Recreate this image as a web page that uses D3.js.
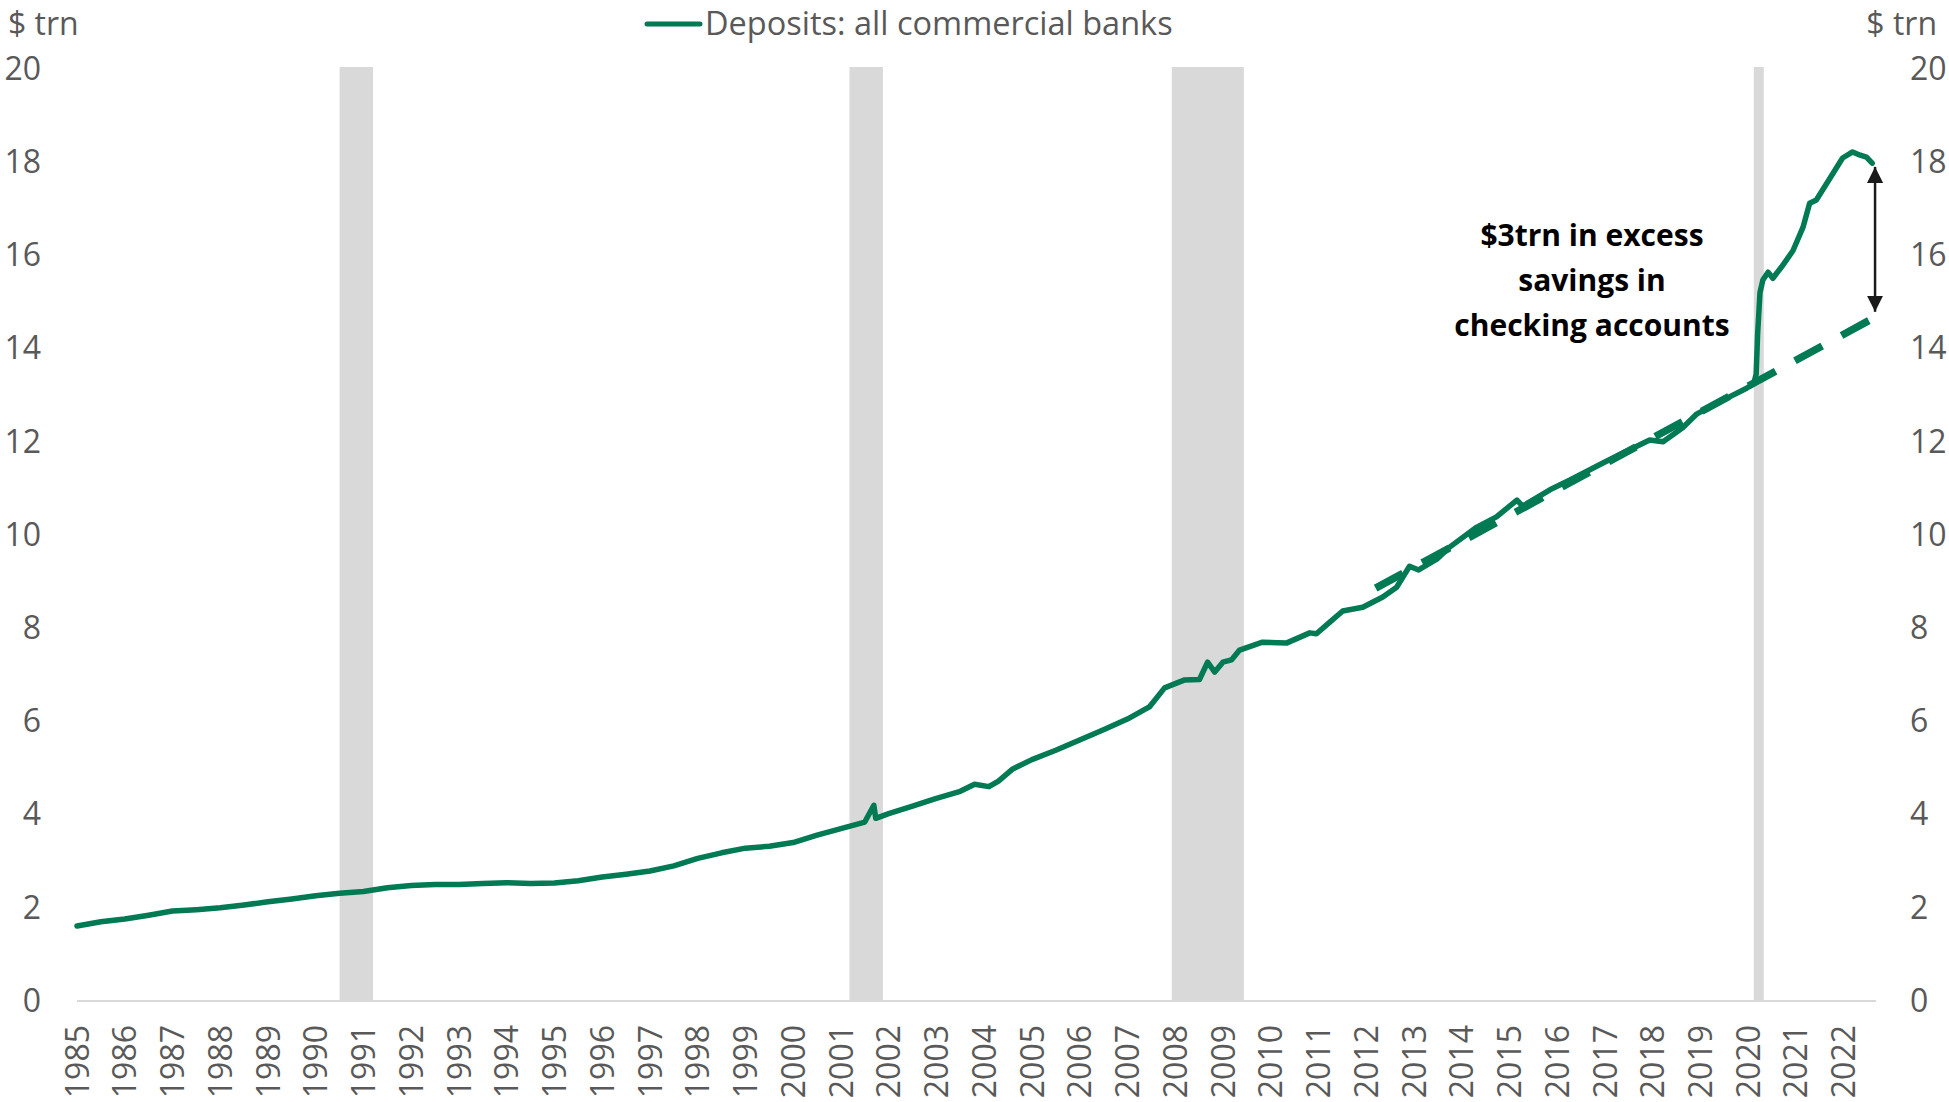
<!DOCTYPE html>
<html>
<head>
<meta charset="utf-8">
<title>Deposits: all commercial banks</title>
<script src="https://cdn.jsdelivr.net/npm/d3@7"></script>
<style>
  html, body { margin: 0; padding: 0; background: #ffffff; }
  svg { display: block; }
  text { font-family: "Open Sans", "Noto Sans", sans-serif; }
</style>
</head>
<body>
<svg id="chart" width="1949" height="1102"></svg>
<script>
// ---- data -------------------------------------------------------------
// Observation dates (decimal years) and deposit levels, $ trillion
const obsDates = [
  1985.0, 1985.5, 1986.0, 1986.5, 1987.0, 1987.5, 1988.0, 1988.5, 1989.0, 1989.5,
  1990.0, 1990.5, 1991.0, 1991.5, 1992.0, 1992.5, 1993.0, 1993.5, 1994.0, 1994.5,
  1995.0, 1995.5, 1996.0, 1996.5, 1997.0, 1997.5, 1998.0, 1998.5, 1999.0, 1999.5,
  2000.0, 2000.5, 2001.0, 2001.5, 2001.69, 2001.73, 2002.0, 2002.5, 2003.0, 2003.5,
  2003.8, 2004.1, 2004.3, 2004.6, 2005.0, 2005.5, 2006.0, 2006.5, 2007.0, 2007.46,
  2007.78, 2008.2, 2008.51, 2008.68, 2008.83, 2009.0, 2009.18, 2009.35, 2009.83, 2010.33,
  2010.82, 2010.96, 2011.24, 2011.51, 2011.93, 2012.35, 2012.64, 2012.91, 2013.1, 2013.48,
  2013.75, 2014.32, 2014.73, 2015.16, 2015.28, 2015.85, 2016.27, 2016.97, 2017.38, 2017.94,
  2018.22, 2018.63, 2018.93, 2019.35, 2019.97, 2020.12, 2020.17, 2020.2, 2020.25, 2020.31,
  2020.42, 2020.52, 2020.7, 2020.94, 2021.15, 2021.29, 2021.43, 2021.65, 2021.98, 2022.19,
  2022.35, 2022.48, 2022.6
];
const deposits = [
  1.61, 1.70, 1.76, 1.84, 1.93, 1.96, 2.00, 2.06, 2.13, 2.19,
  2.26, 2.31, 2.35, 2.43, 2.48, 2.50, 2.50, 2.52, 2.54, 2.52,
  2.53, 2.58, 2.66, 2.72, 2.79, 2.90, 3.06, 3.18, 3.28, 3.32,
  3.40, 3.56, 3.70, 3.84, 4.20, 3.92, 4.02, 4.18, 4.35, 4.50,
  4.65, 4.60, 4.72, 4.98, 5.18, 5.38, 5.60, 5.82, 6.05, 6.31,
  6.72, 6.89, 6.90, 7.27, 7.06, 7.27, 7.32, 7.53, 7.70, 7.68,
  7.90, 7.88, 8.13, 8.37, 8.45, 8.67, 8.88, 9.33, 9.25, 9.48,
  9.74, 10.17, 10.39, 10.75, 10.62, 10.97, 11.18, 11.55, 11.76, 12.04,
  12.00, 12.30, 12.60, 12.83, 13.15, 13.25, 13.45, 14.30, 15.20, 15.47,
  15.64, 15.51, 15.75, 16.10, 16.60, 17.12, 17.19, 17.55, 18.09, 18.22,
  18.15, 18.11, 17.98
];

// Pre-pandemic trend, extended past 2020
const trendDates = [2012.2, 2022.62];
const trendValues = [8.86, 14.65];

// Recession periods (start, end) in decimal years
const recessionStarts = [1990.5, 2001.18, 2007.93, 2020.12];
const recessionEnds   = [1991.2, 2001.88, 2009.44, 2020.33];

// Axis labels
const yearLabels = ["1985","1986","1987","1988","1989","1990","1991","1992","1993","1994",
  "1995","1996","1997","1998","1999","2000","2001","2002","2003","2004","2005","2006",
  "2007","2008","2009","2010","2011","2012","2013","2014","2015","2016","2017","2018",
  "2019","2020","2021","2022"];
const valueTicks = [0, 2, 4, 6, 8, 10, 12, 14, 16, 18, 20];

// Excess-savings gap marker: from the latest level down to the trend
const gapDate = 2022.66;
const gapTop = 17.9;
const gapBottom = 14.79;

const seriesName = "Deposits: all commercial banks";
const unitLabel = "$ trn";
const noteLines = ["$3trn in excess", "savings in", "checking accounts"];

// ---- layout -----------------------------------------------------------
const plot = { left: 77, right: 1876, top: 69, bottom: 1001 };
const green = "#007a53";
const grey = "#595959";
const fontSize = 32;

const svg = d3.select("#chart");

const x = d3.scaleLinear().domain([1985, 2022.68]).range([plot.left, plot.right]);
const y = d3.scaleLinear().domain([0, 20]).range([plot.bottom, plot.top]);

// recession shading
svg.append("g").selectAll("rect")
  .data(recessionStarts.map((s, i) => [s, recessionEnds[i]]))
  .join("rect")
  .attr("x", d => x(d[0]))
  .attr("width", d => x(d[1]) - x(d[0]))
  .attr("y", y(20) - 2)
  .attr("height", y(0) - y(20) + 2)
  .attr("fill", "#d9d9d9");

// baseline
svg.append("line")
  .attr("x1", plot.left).attr("x2", plot.right)
  .attr("y1", y(0)).attr("y2", y(0))
  .attr("stroke", "#d9d9d9").attr("stroke-width", 2);

// left value axis
const leftAxis = d3.axisLeft(y).tickValues(valueTicks).tickSize(0).tickPadding(0)
  .tickFormat(d3.format("d"));
const gl = svg.append("g").attr("transform", "translate(41,0)").call(leftAxis);
gl.select(".domain").remove();
gl.selectAll("text").attr("fill", grey).attr("font-size", fontSize)
  .attr("font-family", '"Open Sans", sans-serif');

// right value axis
const rightAxis = d3.axisRight(y).tickValues(valueTicks).tickSize(0).tickPadding(0)
  .tickFormat(d3.format("d"));
const gr = svg.append("g").attr("transform", "translate(1910,0)").call(rightAxis);
gr.select(".domain").remove();
gr.selectAll("text").attr("fill", grey).attr("font-size", fontSize)
  .attr("font-family", '"Open Sans", sans-serif');

// year labels, rotated
const xAxis = d3.axisBottom(x)
  .tickValues(yearLabels.map(Number))
  .tickSize(0).tickPadding(0)
  .tickFormat(d => String(d));
const gx = svg.append("g").attr("transform", `translate(0,${plot.bottom})`).call(xAxis);
gx.select(".domain").remove();
gx.selectAll("text")
  .attr("fill", grey).attr("font-size", fontSize)
  .attr("font-family", '"Open Sans", sans-serif')
  .attr("text-anchor", "end")
  .attr("transform", "translate(0,24) rotate(-90)")
  .attr("x", 0).attr("y", 0).attr("dy", "0.35em");

// unit labels
svg.append("text").attr("x", 8).attr("y", 35).attr("fill", grey)
  .attr("font-size", fontSize).text(unitLabel);
svg.append("text").attr("x", 1937).attr("y", 35).attr("fill", grey)
  .attr("text-anchor", "end").attr("font-size", fontSize).text(unitLabel);

// trend (dashed)
const pts = obsDates.map((d, i) => [d, deposits[i]]);
const line = d3.line().x(d => x(d[0])).y(d => y(d[1]));

svg.append("path")
  .datum(trendDates.map((d, i) => [d, trendValues[i]]))
  .attr("d", line)
  .attr("fill", "none")
  .attr("stroke", green)
  .attr("stroke-width", 7.5)
  .attr("stroke-dasharray", "31 22");

// deposits line
svg.append("path")
  .datum(pts)
  .attr("d", line)
  .attr("fill", "none")
  .attr("stroke", green)
  .attr("stroke-width", 5.5)
  .attr("stroke-linejoin", "round")
  .attr("stroke-linecap", "round");

// gap arrow
const defs = svg.append("defs");
defs.append("marker")
  .attr("id", "head")
  .attr("viewBox", "0 0 10 10")
  .attr("refX", 10).attr("refY", 5)
  .attr("markerWidth", 6.5).attr("markerHeight", 6.5)
  .attr("markerUnits", "strokeWidth")
  .attr("orient", "auto-start-reverse")
  .append("path").attr("d", "M0,0 L10,5 L0,10 Z").attr("fill", "#1a1a1a");

svg.append("line")
  .attr("x1", x(gapDate)).attr("x2", x(gapDate))
  .attr("y1", y(gapTop)).attr("y2", y(gapBottom))
  .attr("stroke", "#1a1a1a").attr("stroke-width", 2.5)
  .attr("marker-start", "url(#head)")
  .attr("marker-end", "url(#head)");

// annotation
const note = svg.append("text")
  .attr("text-anchor", "middle")
  .attr("font-size", 30)
  .attr("font-weight", 700)
  .attr("fill", "#000");
noteLines.forEach((t, i) => {
  note.append("tspan").attr("x", 1592).attr("y", 246 + i * 45).text(t);
});

// legend
svg.append("line")
  .attr("x1", 647).attr("x2", 700).attr("y1", 24).attr("y2", 24)
  .attr("stroke", green).attr("stroke-width", 5).attr("stroke-linecap", "round");
svg.append("text")
  .attr("x", 705).attr("y", 35)
  .attr("fill", grey).attr("font-size", 32.5)
  .text(seriesName);
</script>
</body>
</html>
